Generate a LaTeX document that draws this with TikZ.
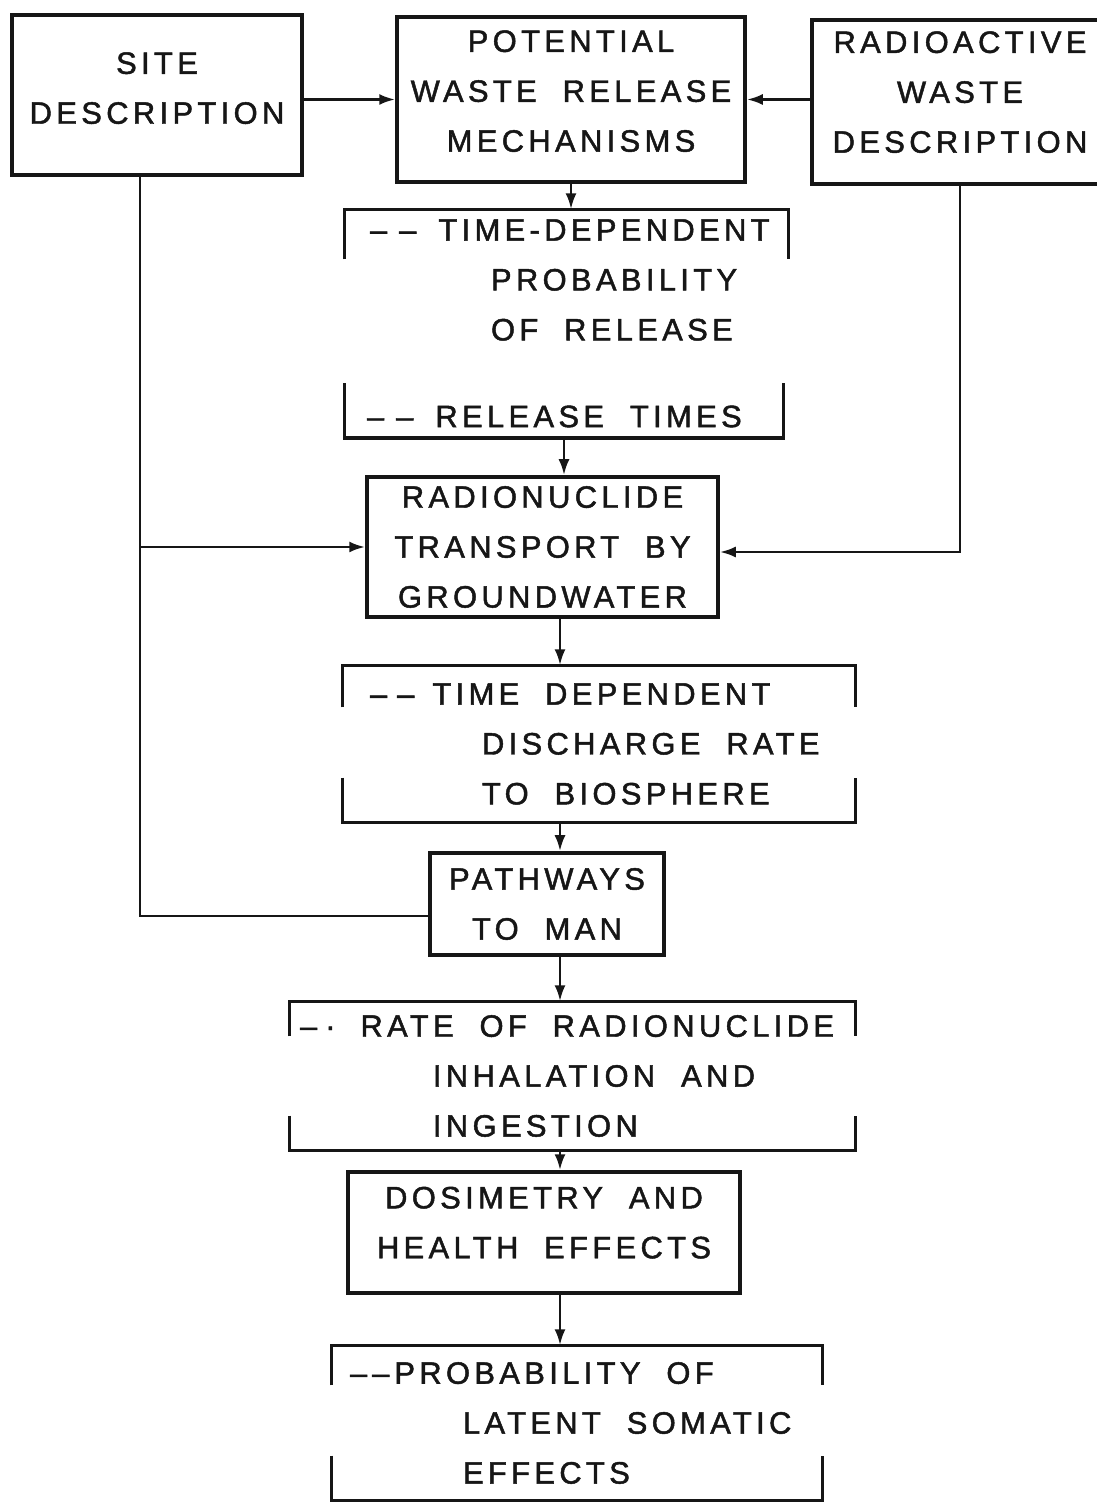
\documentclass[tikz,border=0pt]{standalone}
\usepackage{fontspec}
\setmainfont{Liberation Sans}
\newfontfamily\typeface[LetterSpace=14,WordSpace=2,FakeBold=1.5]{Liberation Sans}
\usetikzlibrary{arrows.meta}
\definecolor{ink}{HTML}{161616}

\begin{document}
\begin{tikzpicture}[
  font=\typeface\fontsize{8.8}{14.2}\selectfont,
  text=ink,
  box/.style={
    draw=ink,
    line width=1pt,
    align=center,
    inner sep=0pt
  },
  bracket/.style={
    align=flush left,
    inner sep=0pt,
    execute at begin node={\exhyphenpenalty=10000\relax}
  },
  rule/.style={draw=ink, line width=1pt},
  wire/.style={draw=ink, line width=0.8pt},
  arrow/.style={wire, -{Latex[length=1.6mm,width=1.1mm]}}
]
\useasboundingbox (0,0) rectangle (10.96,-15.05);

% Inputs and release
\node[box, minimum width=2.90cm, minimum height=1.60cm, text depth=0.14cm] (site) at (1.57,-0.95) {SITE\\DESCRIPTION};
\node[box, minimum width=3.48cm, minimum height=1.65cm, text depth=0.17cm] (release) at (5.71,-0.995) {POTENTIAL\\WASTE RELEASE\\MECHANISMS};
\node[box, minimum width=2.96cm, minimum height=1.64cm, text depth=0.2cm] (waste) at (9.60,-1.02) {RADIOACTIVE\\WASTE\\DESCRIPTION};

\node[bracket, text width=4.43cm, minimum height=1.40cm] (prob) at (5.665,-2.80) {\hspace*{0.25cm}–\hspace{0.12cm}–\hspace{0.22cm}TIME-DEPENDENT\\\hspace*{1.46cm}PROBABILITY\\\hspace*{1.46cm}OF RELEASE};
\node[bracket, text width=4.38cm, minimum height=0.42cm] (times) at (5.64,-4.165) {\hspace*{0.22cm}–\hspace{0.12cm}–\hspace{0.22cm}RELEASE TIMES};

% Transport and exposure chain
\node[box, minimum width=3.51cm, minimum height=1.40cm] (transport) at (5.425,-5.47) {RADIONUCLIDE\\TRANSPORT BY\\GROUNDWATER};
\node[bracket, text width=5.12cm, minimum height=1.56cm] (discharge) at (5.99,-7.44) {\hspace*{0.27cm}–\hspace{0.1cm}–\hspace{0.18cm}TIME DEPENDENT\\\hspace*{1.39cm}DISCHARGE RATE\\\hspace*{1.39cm}TO BIOSPHERE};
\node[box, minimum width=2.34cm, minimum height=1.02cm] (pathways) at (5.47,-9.04) {PATHWAYS\\TO MAN};
\node[bracket, text width=5.65cm, minimum height=1.48cm] (intake) at (5.725,-10.76) {\hspace*{0.10cm}–\hspace{0.08cm}·\hspace{0.25cm}RATE OF RADIONUCLIDE\\\hspace*{1.43cm}INHALATION AND\\\hspace*{1.43cm}INGESTION};
\node[box, minimum width=3.92cm, minimum height=1.21cm, text depth=0.2cm] (dosimetry) at (5.44,-12.325) {DOSIMETRY AND\\HEALTH EFFECTS};
\node[bracket, text width=4.90cm, minimum height=1.54cm] (latent) at (5.77,-14.23) {\hspace*{0.18cm}–\hspace{0.05cm}–\hspace{0.05cm}PROBABILITY OF\\\hspace*{1.31cm}LATENT SOMATIC\\\hspace*{1.31cm}EFFECTS};

% Brackets round the result notes
\foreach \n/\t in {prob/0.5, discharge/0.42, intake/0.35, latent/0.4}
  \draw[rule] ([yshift=-\t cm]\n.north west) |- (\n.north east) -- ++(0,-\t);
\foreach \n/\t in {times/0.55, discharge/0.45, intake/0.35, latent/0.45}
  \draw[rule] ([yshift=\t cm]\n.south west) |- (\n.south east) -- ++(0,\t);

% Main flow
\coordinate (spine) at (5.60,0);
\coordinate (westbus) at (1.40,0);
\draw[arrow] (site.east |- release.west) -- (release.west);
\draw[arrow] (waste.west |- release.east) -- (release.east);
\draw[arrow] (release.south) -- (release.south |- prob.north);
\draw[arrow] (times.south) -- (times.south |- transport.north);
\draw[arrow] (transport.south -| spine) -- (discharge.north -| spine);
\draw[arrow] (discharge.south -| spine) -- (pathways.north -| spine);
\draw[arrow] (pathways.south -| spine) -- (intake.north -| spine);
\draw[arrow] (intake.south -| spine) -- (dosimetry.north -| spine);
\draw[arrow] (dosimetry.south -| spine) -- (latent.north -| spine);

% Side feeds
\draw[wire] (site.south -| westbus) |- ([yshift=-0.12cm]pathways.west);
\draw[arrow] (westbus |- transport.west) -- (transport.west);
\draw[arrow] (waste.south) |- ([yshift=-0.05cm]transport.east);

\end{tikzpicture}
\end{document}
